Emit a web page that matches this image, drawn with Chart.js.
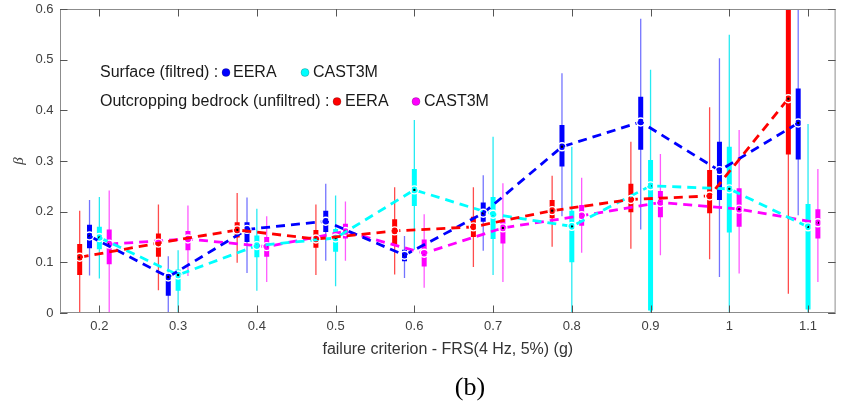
<!DOCTYPE html>
<html>
<head>
<meta charset="utf-8">
<script src="https://cdn.jsdelivr.net/npm/chart.js@4/dist/chart.umd.min.js"></script>
<style>
  html, body { margin: 0; padding: 0; background: #ffffff; }
  #wrap { width: 841px; height: 404px; position: relative; }
</style>
</head>
<body>
<div id="wrap"><canvas id="c" width="841" height="404"></canvas></div>
<script>
// ---------------- data ----------------
const categories = [0.2, 0.3, 0.4, 0.5, 0.6, 0.7, 0.8, 0.9, 1.0, 1.1];
const xTickLabels = ['0.2', '0.3', '0.4', '0.5', '0.6', '0.7', '0.8', '0.9', '1', '1.1'];
const yTickValues = [0, 0.1, 0.2, 0.3, 0.4, 0.5, 0.6];
const yTickLabels = ['0', '0.1', '0.2', '0.3', '0.4', '0.5', '0.6'];

// Surface (filtred) - EERA
const surfEeraLow = [0.074, 0.000, 0.079, 0.103, 0.069, 0.123, 0.191, 0.165, 0.071, 0.193];
const surfEeraQ1  = [0.128, 0.034, 0.140, 0.160, 0.102, 0.180, 0.289, 0.322, 0.223, 0.303];
const surfEeraMed = [0.152, 0.071, 0.165, 0.181, 0.114, 0.197, 0.328, 0.377, 0.281, 0.375];
const surfEeraQ3  = [0.174, 0.077, 0.179, 0.202, 0.125, 0.218, 0.371, 0.427, 0.338, 0.443];
const surfEeraHigh= [0.223, 0.112, 0.228, 0.255, 0.152, 0.272, 0.473, 0.581, 0.503, 0.700];

// Surface (filtred) - CAST3M
const surfCastLow = [0.068, 0.000, 0.044, 0.053, 0.125, 0.075, 0.000, 0.000, 0.000, 0.000];
const surfCastQ1  = [0.126, 0.044, 0.110, 0.121, 0.211, 0.146, 0.100, 0.005, 0.159, 0.007];
const surfCastMed = [0.149, 0.075, 0.133, 0.148, 0.243, 0.195, 0.171, 0.251, 0.245, 0.170];
const surfCastQ3  = [0.170, 0.086, 0.153, 0.166, 0.284, 0.229, 0.202, 0.302, 0.328, 0.215];
const surfCastHigh= [0.229, 0.124, 0.206, 0.232, 0.381, 0.348, 0.328, 0.480, 0.549, 0.373];

// Outcropping bedrock (unfiltred) - EERA
const rockEeraLow = [0.000, 0.045, 0.099, 0.075, 0.076, 0.091, 0.131, 0.127, 0.106, 0.038];
const rockEeraQ1  = [0.075, 0.111, 0.149, 0.129, 0.133, 0.150, 0.187, 0.199, 0.197, 0.313];
const rockEeraMed = [0.110, 0.138, 0.164, 0.146, 0.162, 0.170, 0.202, 0.224, 0.231, 0.423];
const rockEeraQ3  = [0.136, 0.157, 0.179, 0.164, 0.185, 0.190, 0.223, 0.255, 0.282, 0.650];
const rockEeraHigh= [0.202, 0.214, 0.237, 0.214, 0.248, 0.248, 0.271, 0.338, 0.406, 0.800];

// Outcropping bedrock (unfiltred) - CAST3M
const rockCastLow = [0.000, 0.073, 0.061, 0.103, 0.050, 0.061, 0.119, 0.114, 0.078, 0.061];
const rockCastQ1  = [0.096, 0.124, 0.111, 0.147, 0.092, 0.137, 0.172, 0.189, 0.170, 0.147];
const rockCastMed = [0.136, 0.146, 0.131, 0.161, 0.118, 0.168, 0.192, 0.218, 0.205, 0.178];
const rockCastQ3  = [0.165, 0.162, 0.150, 0.176, 0.145, 0.185, 0.213, 0.241, 0.246, 0.205];
const rockCastHigh= [0.242, 0.212, 0.191, 0.220, 0.195, 0.256, 0.267, 0.314, 0.361, 0.284];

// ---------------- styling ----------------
const series = [
  { name: 'rockEera', color: '#ff0000', whisk: 'rgba(255,0,0,0.7)',    off: -0.025, low: rockEeraLow, q1: rockEeraQ1, med: rockEeraMed, q3: rockEeraQ3, high: rockEeraHigh },
  { name: 'surfEera', color: '#0000ff', whisk: 'rgba(0,0,255,0.55)',   off: -0.0125, low: surfEeraLow, q1: surfEeraQ1, med: surfEeraMed, q3: surfEeraQ3, high: surfEeraHigh },
  { name: 'surfCast', color: '#00ffff', whisk: 'rgba(0,230,240,0.85)', off: 0,      low: surfCastLow, q1: surfCastQ1, med: surfCastMed, q3: surfCastQ3, high: surfCastHigh },
  { name: 'rockCast', color: '#ff00ff', whisk: 'rgba(255,0,255,0.65)', off: 0.0125, low: rockCastLow, q1: rockCastQ1, med: rockCastMed, q3: rockCastQ3, high: rockCastHigh }
];

function segs(a, b, off) {
  const out = [];
  categories.forEach((c, i) => {
    out.push({ x: c + off, y: a[i] });
    out.push({ x: c + off, y: b[i] });
    out.push({ x: c + off, y: null });
  });
  return out;
}
function pts(v, off) { return categories.map((c, i) => ({ x: c + off, y: v[i] })); }

const datasets = [];
series.forEach(s => {
  datasets.push({
    label: s.name + ' median', data: pts(s.med, s.off), order: 1, clip: 0,
    borderColor: s.color, borderWidth: 2.8, borderDash: [9, 6], fill: false,
    pointStyle: 'circle', pointRadius: 4, pointBorderColor: '#ffffff', pointBorderWidth: 1.4,
    pointBackgroundColor: 'rgba(0,0,0,0)', tension: 0
  });
  datasets.push({
    label: s.name + ' dot', data: pts(s.med, s.off), order: 2, clip: 0, showLine: false,
    pointStyle: 'circle', pointRadius: 1.2, pointBorderWidth: 0, pointBackgroundColor: '#000000'
  });
  datasets.push({
    label: s.name + ' box', data: segs(s.q1, s.q3, s.off), order: 3, clip: 0, spanGaps: false,
    borderColor: s.color, borderWidth: 5, borderCapStyle: 'butt', pointRadius: 0, fill: false
  });
  datasets.push({
    label: s.name + ' whisker', data: segs(s.low, s.high, s.off), order: 4, clip: 0, spanGaps: false,
    borderColor: s.whisk, borderWidth: 1.3, borderCapStyle: 'butt', pointRadius: 0, fill: false
  });
});

const framePlugin = {
  id: 'frame',
  afterDraw(chart) {
    const { ctx, chartArea: a, scales: { x, y } } = chart;
    ctx.save();
    ctx.strokeStyle = '#8c8c8c';
    ctx.lineWidth = 1;
    ctx.strokeRect(a.left + 0.5, a.top + 0.5, a.right - a.left - 1, a.bottom - a.top - 1);
    ctx.strokeStyle = '#555555';
    ctx.beginPath();
    const tl = 7.5;
    categories.forEach(v => {
      const px = Math.round(x.getPixelForValue(v)) + 0.5;
      ctx.moveTo(px, a.bottom); ctx.lineTo(px, a.bottom - tl);
      ctx.moveTo(px, a.top); ctx.lineTo(px, a.top + tl);
    });
    yTickValues.forEach(v => {
      const py = Math.round(y.getPixelForValue(v)) + 0.5;
      ctx.moveTo(a.left, py); ctx.lineTo(a.left + tl, py);
      ctx.moveTo(a.right, py); ctx.lineTo(a.right - tl, py);
    });
    ctx.stroke();
    ctx.restore();
  }
};

const legendPlugin = {
  id: 'textLegend',
  afterDraw(chart) {
    const ctx = chart.ctx;
    ctx.save();
    ctx.font = '16px "Liberation Sans", Arial, sans-serif';
    ctx.fillStyle = '#1a1a1a';
    ctx.textBaseline = 'alphabetic';
    ctx.textAlign = 'left';
    const dot = (cx, cy, col) => {
      ctx.beginPath(); ctx.arc(cx, cy, 4, 0, Math.PI * 2);
      ctx.fillStyle = col; ctx.fill();
      ctx.lineWidth = 0.6; ctx.strokeStyle = 'rgba(0,0,0,0.35)'; ctx.stroke();
      ctx.fillStyle = '#1a1a1a';
    };
    ctx.fillText('Surface (filtred) :', 100, 77);
    dot(226, 72.5, '#0000ff');
    ctx.fillText('EERA', 233, 77);
    dot(305, 72.5, '#00ffff');
    ctx.fillText('CAST3M', 313, 77);
    ctx.fillText('Outcropping bedrock (unfiltred) :', 100, 106);
    dot(337, 101.5, '#ff0000');
    ctx.fillText('EERA', 345, 106);
    dot(416, 101.5, '#ff00ff');
    ctx.fillText('CAST3M', 424, 106);

    ctx.font = '26px "Liberation Serif", "Times New Roman", serif';
    ctx.textAlign = 'center';
    ctx.fillStyle = '#000000';
    ctx.fillText('(b)', 470, 395);
    ctx.restore();
  }
};

new Chart(document.getElementById('c'), {
  type: 'line',
  data: { datasets },
  options: {
    responsive: false,
    animation: false,
    devicePixelRatio: 1,
    layout: { padding: { top: 9, right: 2, bottom: 31, left: 0 } },
    plugins: { legend: { display: false }, tooltip: { enabled: false }, title: { display: false } },
    scales: {
      x: {
        type: 'linear', min: 0.15, max: 1.135,
        grid: { display: false, drawTicks: false },
        border: { display: false },
        afterBuildTicks: s => { s.ticks = categories.map(v => ({ value: v })); },
        afterFit: s => { s.height = 60; s.paddingLeft = 0; s.paddingRight = 0; },
        ticks: {
          padding: 6, color: '#404040', font: { size: 13, family: '"Liberation Sans", Arial, sans-serif' },
          maxRotation: 0, autoSkip: false,
          callback: (v, i) => xTickLabels[i]
        },
        title: {
          display: true, text: 'failure criterion - FRS(4 Hz, 5%) (g)', color: '#333333',
          font: { size: 16, family: '"Liberation Sans", Arial, sans-serif' },
          padding: { top: 0, bottom: 13.4 }
        }
      },
      y: {
        type: 'linear', min: 0, max: 0.6,
        grid: { display: false, drawTicks: false },
        border: { display: false },
        afterBuildTicks: s => { s.ticks = yTickValues.map(v => ({ value: v })); },
        afterFit: s => { s.width = 60; s.paddingTop = 0; s.paddingBottom = 0; },
        ticks: {
          padding: 6.5, color: '#404040', font: { size: 13, family: '"Liberation Sans", Arial, sans-serif' },
          callback: (v, i) => yTickLabels[i]
        },
        title: {
          display: true, text: 'β', color: '#404040',
          font: { size: 15, style: 'italic', family: '"Liberation Serif", "Times New Roman", serif' },
          padding: { top: 10, bottom: 0 }
        }
      }
    }
  },
  plugins: [framePlugin, legendPlugin]
});
</script>
</body>
</html>
